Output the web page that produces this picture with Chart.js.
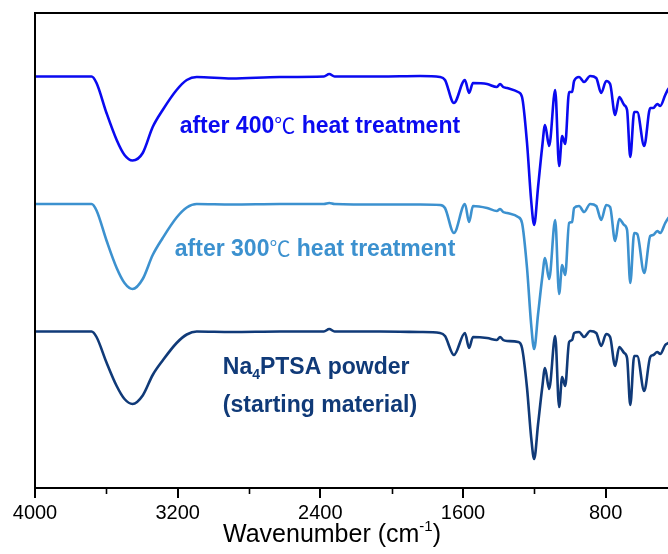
<!DOCTYPE html>
<html>
<head>
<meta charset="utf-8">
<script src="https://cdn.jsdelivr.net/npm/chart.js@4.4.0/dist/chart.umd.min.js"></script>
<style>
  html, body { margin: 0; padding: 0; background: #fff; overflow: hidden; }
  #wrap { position: relative; width: 700px; height: 554px; }
</style>
</head>
<body>
<div id="wrap"><canvas id="ftir"></canvas></div>
<script>
// ---- data (transmittance in a.u.) ----
const wavenumbers = [4000, 3683, 3655, 3599, 3542, 3498, 3453, 3396, 3340, 3284, 3206, 3149, 3093, 2897, 2627,
  2380, 2350, 2320, 2066, 1841, 1729, 1701, 1651, 1589, 1566, 1544, 1465, 1410, 1392, 1375, 1353, 1291, 1269,
  1241, 1218, 1201, 1179, 1156, 1140, 1117, 1083, 1061, 1044, 1027, 1005, 988, 977, 949, 921, 887, 853, 825,
  797, 775, 747, 724, 696, 680, 662, 640, 623, 584, 550, 533, 511, 494, 466, 449, 400];

const after400 = [82.3, 82.3, 81.0, 75.0, 69.6, 66.6, 65.5, 67.0, 72.2, 75.6, 79.6, 81.6, 82.2, 81.9, 82.2,
  82.3, 82.8, 82.3, 82.3, 82.4, 82.2, 81.6, 77.0, 81.6, 79.0, 81.0, 80.8, 80.2, 80.8, 80.2, 80.0, 79.2, 78.2,
  69.0, 57.6, 52.6, 60.2, 68.2, 72.6, 68.4, 79.6, 64.4, 70.4, 68.8, 79.2, 79.2, 81.4, 82.2, 81.2, 82.4, 82.0, 79.0,
  81.4, 80.8, 74.6, 78.2, 76.6, 75.6, 66.2, 75.2, 75.2, 68.4, 76.0, 76.0, 76.8, 76.4, 78.6, 79.8, 81.6];

const after300 = [56.8, 56.8, 55.5, 49.5, 44.0, 41.0, 39.8, 41.8, 46.6, 50.0, 54.1, 56.1, 56.8, 56.7, 56.8,
  56.8, 57.0, 56.8, 56.7, 56.7, 56.6, 56.0, 51.0, 56.8, 53.2, 56.4, 56.0, 55.4, 55.8, 55.2, 55.0, 54.2, 53.0,
  44.0, 32.8, 27.8, 34.8, 42.0, 46.0, 41.8, 53.6, 38.8, 44.6, 42.6, 53.0, 53.2, 56.0, 56.4, 55.2, 56.8, 56.4, 53.6,
  56.6, 56.2, 49.4, 53.8, 52.6, 51.6, 41.0, 51.0, 50.8, 43.0, 50.4, 50.6, 51.4, 51.0, 53.0, 54.0, 55.6];

const powder = [31.3, 31.3, 30.2, 25.1, 20.4, 17.8, 16.8, 18.5, 22.6, 25.5, 29.0, 30.7, 31.3, 31.2, 31.3,
  31.3, 31.8, 31.3, 31.3, 31.2, 31.0, 30.4, 26.6, 31.0, 28.0, 30.2, 30.0, 29.6, 30.2, 29.6, 29.4, 29.2, 28.0,
  20.0, 10.2, 5.8, 12.8, 20.0, 24.0, 19.8, 30.4, 16.2, 22.2, 20.4, 29.2, 29.6, 31.0, 31.2, 30.2, 31.4, 31.0, 28.4,
  30.8, 30.2, 24.4, 28.2, 27.0, 26.0, 16.6, 26.4, 26.4, 19.4, 26.2, 26.6, 27.2, 26.8, 28.6, 29.0, 30.4];

const majorTicks = [4000, 3200, 2400, 1600, 800];
const minorTicks = [3600, 2800, 2000, 1200];

// ---- styles ----
const FONT = '"Liberation Sans", Arial, Helvetica, sans-serif';
const CJK = '"Noto Sans CJK SC", sans-serif';
const C400 = '#0a0af0';
const C300 = '#3c91cf';
const CRAW = '#103a78';

function toPoints(vals) {
  return wavenumbers.map((w, i) => ({ x: w, y: vals[i] }));
}

function lineSet(label, vals, color) {
  return {
    label, data: toPoints(vals), borderColor: color, borderWidth: 2.6,
    pointRadius: 0, fill: false, cubicInterpolationMode: 'monotone'
  };
}

// draws a run of [text, font, dy] pieces left to right
function drawRun(ctx, pieces, x, y) {
  pieces.forEach(([txt, font, dy]) => {
    ctx.font = font;
    ctx.fillText(txt, x, y + (dy || 0));
    x += ctx.measureText(txt).width;
  });
}

// frame, minor ticks, annotations, axis title
const decorPlugin = {
  id: 'decor',
  afterDraw(chart) {
    const { ctx, chartArea: a, scales: { x, y } } = chart;
    ctx.save();

    // frame
    ctx.strokeStyle = '#000';
    ctx.lineWidth = 2;
    ctx.strokeRect(a.left, a.top, a.right - a.left, a.bottom - a.top);

    // minor ticks
    ctx.lineWidth = 1.6;
    minorTicks.forEach(v => {
      const px = Math.round(x.getPixelForValue(v)) + 0.5;
      ctx.beginPath();
      ctx.moveTo(px, a.bottom);
      ctx.lineTo(px, a.bottom + 6);
      ctx.stroke();
    });

    // curve labels
    ctx.textBaseline = 'alphabetic';
    ctx.textAlign = 'left';
    const big = 'bold 23px ' + FONT;
    const deg = '21px ' + CJK;
    ctx.fillStyle = C400;
    drawRun(ctx, [['after 400', big], ['\u2103', deg], [' heat treatment', big]],
      x.getPixelForValue(3189), y.getPixelForValue(71));
    ctx.fillStyle = C300;
    drawRun(ctx, [['after 300', big], ['\u2103', deg], [' heat treatment', big]],
      x.getPixelForValue(3216), y.getPixelForValue(46.4));

    ctx.fillStyle = CRAW;
    drawRun(ctx, [['Na', big], ['4', 'bold 14px ' + FONT, 5], ['PTSA powder', big]],
      x.getPixelForValue(2947), y.getPixelForValue(22.8));
    drawRun(ctx, [['(starting material)', big]],
      x.getPixelForValue(2947), y.getPixelForValue(15.3));

    // x axis title with superscript
    ctx.fillStyle = '#000';
    const main = 'Wavenumber (cm';
    ctx.font = '25px ' + FONT;
    const wMain = ctx.measureText(main).width;
    const wTail = ctx.measureText(')').width;
    ctx.font = '15px ' + FONT;
    const wSup = ctx.measureText('-1').width;
    drawRun(ctx, [[main, '25px ' + FONT], ['-1', '15px ' + FONT, -11], [')', '25px ' + FONT]],
      332 - (wMain + wSup + wTail) / 2, 542);

    ctx.restore();
  }
};

new Chart(document.getElementById('ftir'), {
  type: 'line',
  data: {
    datasets: [
      lineSet('after 400\u2103 heat treatment', after400, C400),
      lineSet('after 300\u2103 heat treatment', after300, C300),
      lineSet('Na4PTSA powder (starting material)', powder, CRAW)
    ]
  },
  options: {
    responsive: true,
    maintainAspectRatio: false,
    animation: false,
    layout: { padding: { left: 35, right: 23, top: 13, bottom: 0 } },
    plugins: { legend: { display: false }, tooltip: { enabled: false } },
    scales: {
      x: {
        type: 'linear',
        min: 400,
        max: 4000,
        reverse: true,
        afterBuildTicks: s => { s.ticks = majorTicks.map(v => ({ value: v })); },
        afterFit: s => { s.height = 66; },
        border: { display: false },
        grid: { drawOnChartArea: false, drawTicks: true, tickLength: 10, color: '#000', lineWidth: 2 },
        ticks: {
          color: '#000',
          padding: 3,
          maxRotation: 0,
          autoSkip: false,
          font: { family: FONT, size: 20 },
          callback: v => String(v)
        }
      },
      y: { display: false, min: 0, max: 95 }
    }
  },
  plugins: [decorPlugin]
});
</script>
</body>
</html>
